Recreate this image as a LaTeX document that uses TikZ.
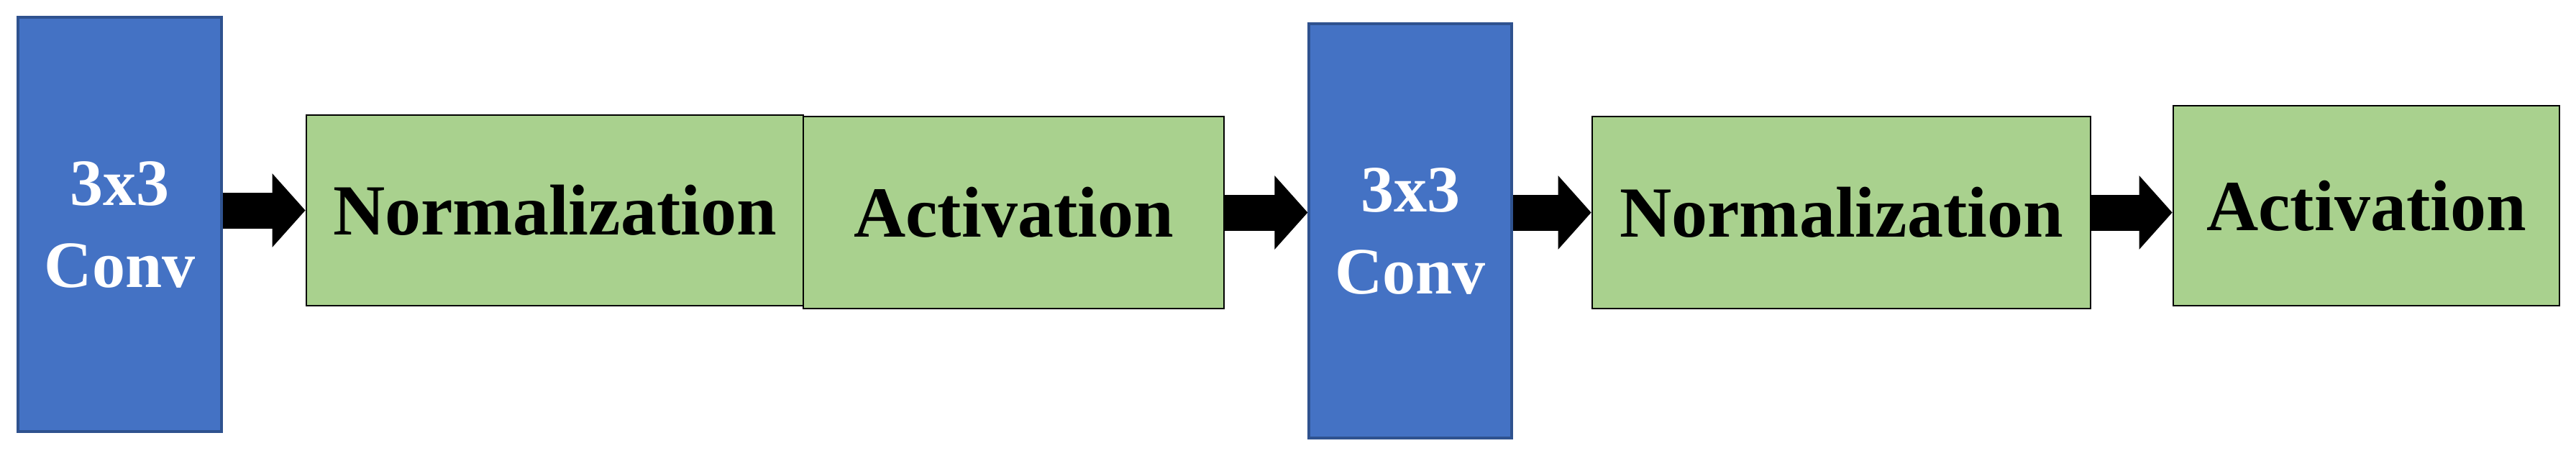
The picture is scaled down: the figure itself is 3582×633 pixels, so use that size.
\documentclass[tikz,border=0pt]{standalone}
\usepackage{fontspec}
\setmainfont{Liberation Serif}
\usetikzlibrary{arrows.meta}
\definecolor{convblue}{HTML}{4472C4}
\definecolor{convedge}{HTML}{2F528F}
\definecolor{boxgreen}{HTML}{A9D18E}
\begin{document}
\begin{tikzpicture}[x=0.25pt,y=-0.25pt,
  conv/.style={draw=convedge,line width=0.8pt,fill=convblue,text=white,inner sep=0pt,
    font=\bfseries\fontsize{23}{28.5}\selectfont,align=center},
  blk/.style={draw=black,line width=0.7pt,fill=boxgreen,inner sep=0pt,
    font=\bfseries\fontsize{25}{30}\selectfont},
  flow/.style={line width=12.5pt,-{Triangle[length=11.5pt,width=25pt]}}]
\useasboundingbox (0,0) rectangle (3582,633);
\node[conv,minimum width=70.75pt,minimum height=144pt] (c1) at (166.5,312) {3x3\\Conv};
\node[blk,minimum width=172.75pt,minimum height=66.25pt] (n1) at (771.5,292.5) {Normalization};
\node[blk,minimum width=146.25pt,minimum height=66.75pt] (a1) at (1409.5,295.5) {Activation};
\node[conv,minimum width=70.5pt,minimum height=144pt] (c2) at (1961,321) {3x3\\Conv};
\node[blk,minimum width=173.25pt,minimum height=66.75pt] (n2) at (2560.5,295.5) {Normalization};
\node[blk,minimum width=134.25pt,minimum height=69.5pt] (a2) at (3290.5,286) {Activation};
\draw[flow] (c1.east |- n1.west) -- (n1.west);
\draw[flow] (a1.east) -- (c2.west |- a1.east);
\draw[flow] (c2.east |- n2.west) -- (n2.west);
\draw[flow] (n2.east) -- (a2.west |- n2.east);
\end{tikzpicture}
\end{document}
